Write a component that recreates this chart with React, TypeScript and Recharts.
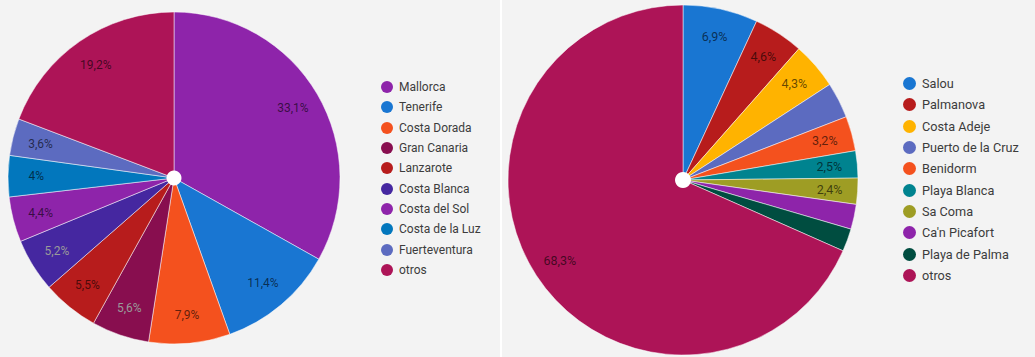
import { Cell, Legend, Pie, PieChart } from "recharts";

// left chart: destinos (share of total)
const leftNames = [
  "Mallorca",
  "Tenerife",
  "Costa Dorada",
  "Gran Canaria",
  "Lanzarote",
  "Costa Blanca",
  "Costa del Sol",
  "Costa de la Luz",
  "Fuerteventura",
  "otros"
];
const leftValues = [33.1, 11.4, 7.9, 5.6, 5.5, 5.2, 4.4, 4, 3.6, 19.2];
const leftColors = [
  "#8e24aa",
  "#1976d2",
  "#f4511e",
  "#880e4f",
  "#b71c1c",
  "#4527a0",
  "#8e24aa",
  "#0277bd",
  "#5c6bc0",
  "#ad1457"
];
const leftMutedLabels = ["Gran Canaria", "Costa Blanca"];

// right chart: resorts
const rightNames = [
  "Salou",
  "Palmanova",
  "Costa Adeje",
  "Puerto de la Cruz",
  "Benidorm",
  "Playa Blanca",
  "Sa Coma",
  "Ca'n Picafort",
  "Playa de Palma",
  "otros"
];
const rightValues = [6.9, 4.6, 4.3, 3.3, 3.2, 2.5, 2.4, 2.3, 2.1, 68.3];
const rightColors = [
  "#1976d2",
  "#b71c1c",
  "#ffb300",
  "#5c6bc0",
  "#f4511e",
  "#00838f",
  "#9e9d24",
  "#8e24aa",
  "#004d40",
  "#ad1457"
];
const rightHiddenLabels = ["Puerto de la Cruz", "Ca'n Picafort", "Playa de Palma"];

const RADIAN = Math.PI / 180;
const BG = "#f3f3f3";
const NO_MARGIN = { top: 0, right: 0, bottom: 0, left: 0 };
const pct = (v: number) => `${String(v).replace(".", ",")}%`;

function makeLabel(opts: { ratio: number; fontSize: number; hidden: string[]; muted: string[] }) {
  return (props: any) => {
    const { cx, cy, midAngle, outerRadius, value, name } = props;
    if (opts.hidden.includes(name)) return null;
    const r = outerRadius * opts.ratio;
    const x = cx + r * Math.cos(-midAngle * RADIAN);
    const y = cy + r * Math.sin(-midAngle * RADIAN);
    const muted = opts.muted.includes(name);
    return (
      <text
        x={x}
        y={y}
        textAnchor="middle"
        dominantBaseline="central"
        fontFamily="Roboto, sans-serif"
        fontSize={opts.fontSize}
        fill={muted ? "#9a9a9a" : "#000"}
        fillOpacity={muted ? 1 : 0.62}
      >
        {pct(value)}
      </text>
    );
  };
}

function SideLegend({
  names,
  colors,
  fontSize,
  rowHeight,
  dot
}: {
  names: string[];
  colors: string[];
  fontSize: number;
  rowHeight: number;
  dot: number;
}) {
  return (
    <div style={{ fontFamily: "Roboto, sans-serif", fontSize, color: "#3c3c3c" }}>
      {names.map((n, i) => (
        <div key={n} style={{ display: "flex", alignItems: "center", height: rowHeight }}>
          <span
            style={{
              width: dot,
              height: dot,
              borderRadius: "50%",
              background: colors[i],
              marginRight: 6,
              flexShrink: 0
            }}
          />
          <span style={{ whiteSpace: "nowrap" }}>{n}</span>
        </div>
      ))}
    </div>
  );
}

export default function App() {
  const leftData = leftNames.map((name, i) => ({ name, value: leftValues[i] }));
  const rightData = rightNames.map((name, i) => ({ name, value: rightValues[i] }));
  const hole = [{ name: "hole", value: 1 }];

  return (
    <div
      style={{
        position: "absolute",
        left: 0,
        top: 0,
        width: 1035,
        height: 357,
        background: "#fff"
      }}
    >
      <div style={{ position: "absolute", left: 0, top: 0, width: 500, height: 357, background: BG }}>
        <PieChart width={500} height={357} margin={NO_MARGIN}>
          <Pie
            data={leftData}
            dataKey="value"
            nameKey="name"
            cx={174}
            cy={178}
            outerRadius={166}
            startAngle={90}
            endAngle={-270}
            stroke="#fff"
            strokeWidth={0.5}
            labelLine={false}
            label={makeLabel({ ratio: 0.83, fontSize: 12, hidden: [], muted: leftMutedLabels })}
            isAnimationActive={false}
          >
            {leftData.map((d, i) => (
              <Cell key={d.name} fill={leftColors[i]} />
            ))}
          </Pie>
          <Pie
            data={hole}
            dataKey="value"
            cx={174}
            cy={178}
            outerRadius={7.5}
            fill="#fff"
            stroke="none"
            legendType="none"
            isAnimationActive={false}
          />
          <Legend
            wrapperStyle={{ position: "absolute", left: 381, top: 77, width: 119 }}
            content={() => (
              <SideLegend names={leftNames} colors={leftColors} fontSize={12} rowHeight={20.3} dot={12} />
            )}
          />
        </PieChart>
      </div>
      <div style={{ position: "absolute", left: 502, top: 0, width: 533, height: 357, background: BG }}>
        <PieChart width={533} height={357} margin={NO_MARGIN}>
          <Pie
            data={rightData}
            dataKey="value"
            nameKey="name"
            cx={181}
            cy={180}
            outerRadius={175}
            startAngle={90}
            endAngle={-270}
            stroke="#fff"
            strokeWidth={0.5}
            labelLine={false}
            label={makeLabel({ ratio: 0.84, fontSize: 12.5, hidden: rightHiddenLabels, muted: [] })}
            isAnimationActive={false}
          >
            {rightData.map((d, i) => (
              <Cell key={d.name} fill={rightColors[i]} />
            ))}
          </Pie>
          <Pie
            data={hole}
            dataKey="value"
            cx={181}
            cy={180}
            outerRadius={8}
            fill="#fff"
            stroke="none"
            legendType="none"
            isAnimationActive={false}
          />
          <Legend
            wrapperStyle={{ position: "absolute", left: 401, top: 73, width: 132 }}
            content={() => (
              <SideLegend names={rightNames} colors={rightColors} fontSize={12.7} rowHeight={21.3} dot={13} />
            )}
          />
        </PieChart>
      </div>
    </div>
  );
}
